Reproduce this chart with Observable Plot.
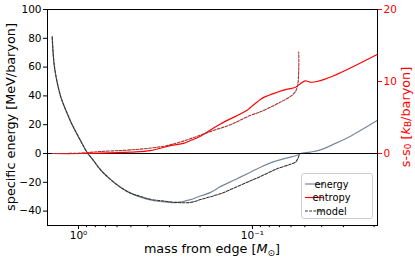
<!DOCTYPE html>
<html><head><meta charset="utf-8">
<script src="https://cdn.jsdelivr.net/npm/d3@7"></script>
<script src="https://cdn.jsdelivr.net/npm/@observablehq/plot@0.6"></script>
<style>
body{margin:0;background:#fff;font-family:"DejaVu Sans",sans-serif;}
#wrap{position:relative;width:415px;height:261px;}
</style></head>
<body><div id="wrap"></div>
<script>
// ---- data ----
const energyMass = [1.416,1.374,1.269,1.172,1.087,0.974,0.884,0.834,0.747,0.655,0.574,0.502,0.440,0.386,0.309,0.271,0.227,0.199,0.174,0.153,0.125,0.1027,0.0900,0.0788,0.0638,0.0553,0.0530,0.0464,0.0407,0.0333,0.0273,0.0224,0.0192];
const energyVal  = [81,60,40,29,20,9,0,-3.7,-11.3,-18,-23.4,-27.5,-30.3,-32.3,-33.8,-34,-32,-29.5,-27,-23,-18,-13,-9.5,-6.5,-3.2,-1.2,0,1,2.5,7,12,18,22.9];

const modelEMass = [1.416,1.374,1.269,1.172,1.087,0.974,0.884,0.834,0.747,0.655,0.574,0.502,0.440,0.386,0.309,0.271,0.227,0.199,0.174,0.153,0.125,0.1027,0.0900,0.0721,0.0605,0.0566,0.0549,0.0535];
const modelEVal  = [81,60,40,29,20,9,0,-3.7,-11.3,-18,-23.4,-27.5,-29.8,-31.8,-33.3,-34,-34,-32,-30,-28,-23.5,-19,-16,-10.6,-7.5,-6,-3.7,0];

const entropyMass = [1.416,0.974,0.747,0.502,0.386,0.296,0.249,0.227,0.199,0.153,0.1073,0.1027,0.0900,0.0861,0.0721,0.0638,0.0566,0.0530,0.0496,0.0464,0.0425,0.0341,0.0192];
const entropyVal  = [0,0,0.05,0.2,0.4,1.1,1.4,1.8,2.4,4.1,6.0,6.4,7.5,7.8,8.5,8.9,9.2,9.7,10.1,9.9,10.0,10.8,13.75];

const modelSMass = [1.416,0.974,0.747,0.502,0.3246,0.2594,0.1675,0.1338,0.1027,0.0920,0.0721,0.0579,0.0553,0.0542,0.0542];
const modelSVal  = [0,0.05,0.28,0.5,1.0,1.6,3.2,4.0,5.3,5.7,6.9,8.3,9.2,11.5,14.1];

const leftTicks  = [-40,-20,0,20,40,60,80,100];
const rightTicks = [0,10,20];
const majorXTicks = [1,0.1];
const majorXLabels = ["10⁰","10⁻¹"];
const minorXTicks = [0.9,0.8,0.7,0.6,0.5,0.4,0.3,0.2,0.09,0.08,0.07,0.06,0.05,0.04,0.03,0.02];
const legendLabels = ["energy","entropy","model"];

// ---- build ----
const rows = (ms, vs) => ms.map((m,i)=>({m, v: vs[i]}));
const energy = rows(energyMass, energyVal);
const modelE = rows(modelEMass, modelEVal);
const entropy = rows(entropyMass, entropyVal);
const modelS = rows(modelSMass, modelSVal);
const S = 5; // right axis (20) ↔ left axis (100)
const dash = "2.8,1.4";
const curve = "catmull-rom";

const chart = Plot.plot({
  width:415, height:261, marginLeft:47, marginRight:38, marginTop:9, marginBottom:36,
  style:{fontFamily:"DejaVu Sans", fontSize:"10.5px", background:"white", color:"black", overflow:"visible"},
  x:{type:"log", domain:[1.507,0.0191]},
  y:{domain:[-50,100]},
  marks:[
    Plot.line(energy, {x:"m", y:"v", stroke:"#778899", strokeWidth:1.2, curve}),
    Plot.line(modelE, {x:"m", y:"v", stroke:"#333", strokeWidth:1.1, strokeDasharray:dash, curve}),
    Plot.ruleY([0], {stroke:"black", strokeWidth:1.2}),
    Plot.line(entropy, {x:"m", y:d=>d.v*S, stroke:"red", strokeWidth:1.2, curve}),
    Plot.line(modelS, {x:"m", y:d=>d.v*S, stroke:"#a83232", strokeWidth:1.1, strokeDasharray:dash, curve}),
    Plot.frame({stroke:"black", strokeWidth:1}),
    Plot.axisX({ticks:majorXTicks, tickFormat:d=>majorXLabels[majorXTicks.indexOf(d)], tickSize:4, tickPadding:2, label:null}),
    Plot.axisX({ticks:minorXTicks, tickSize:2.2, tickFormat:()=>"", label:null}),
    Plot.axisY({ticks:leftTicks, tickSize:4, tickPadding:2, label:null}),
    Plot.axisY({anchor:"right", ticks:rightTicks.map(t=>t*S), tickFormat:d=>String(d/S), color:"red", tickSize:4, tickPadding:2, label:null})
  ]
});
document.getElementById("wrap").appendChild(chart);

// ---- labels & legend ----
const svg = d3.select(chart);
const lab = 12.8;
svg.append("text").attr("transform","translate(10.5,117) rotate(-90)")
  .attr("text-anchor","middle").attr("dominant-baseline","central")
  .attr("font-size",lab).attr("fill","black").text("specific energy [MeV/baryon]");
{
  const t = svg.append("text").attr("transform","translate(405,117) rotate(-90)")
    .attr("text-anchor","middle").attr("dominant-baseline","central")
    .attr("font-size",lab).attr("fill","red");
  t.append("tspan").text("s-s");
  t.append("tspan").attr("font-size",lab*0.7).attr("dy",3).text("0");
  t.append("tspan").attr("dy",-3).text(" [");
  t.append("tspan").attr("font-style","italic").text("k");
  t.append("tspan").attr("font-size",lab*0.7).attr("dy",3).text("B");
  t.append("tspan").attr("dy",-3).text("/baryon]");
}
{
  const t = svg.append("text").attr("x",212).attr("y",253)
    .attr("text-anchor","middle").attr("font-size",lab).attr("fill","black");
  t.append("tspan").text("mass from edge [");
  t.append("tspan").attr("font-style","italic").text("M");
  t.append("tspan").attr("font-size",lab*0.7).attr("dy",2.5).text("⊙");
  t.append("tspan").attr("dy",-2.5).text("]");
}
{
  const g = svg.append("g");
  g.append("rect").attr("x",301.5).attr("y",173.5).attr("width",71).attr("height",45)
    .attr("rx",2.5).attr("fill","white").attr("fill-opacity",0.85).attr("stroke","#d0d0d0");
  const styles = [{s:"#778899",d:null},{s:"red",d:null},{s:"#333",d:dash}];
  legendLabels.forEach((name,i)=>{
    const y = 184 + i*13.5;
    const l = g.append("line").attr("x1",305).attr("x2",324).attr("y1",y).attr("y2",y)
      .attr("stroke",styles[i].s).attr("stroke-width",1.2);
    if (styles[i].d) l.attr("stroke-dasharray",styles[i].d);
    g.append("text").attr("x",331.5).attr("y",y).attr("dominant-baseline","central")
      .attr("font-size",9.8).attr("fill","black").text(name);
  });
}
</script>
</body></html>
